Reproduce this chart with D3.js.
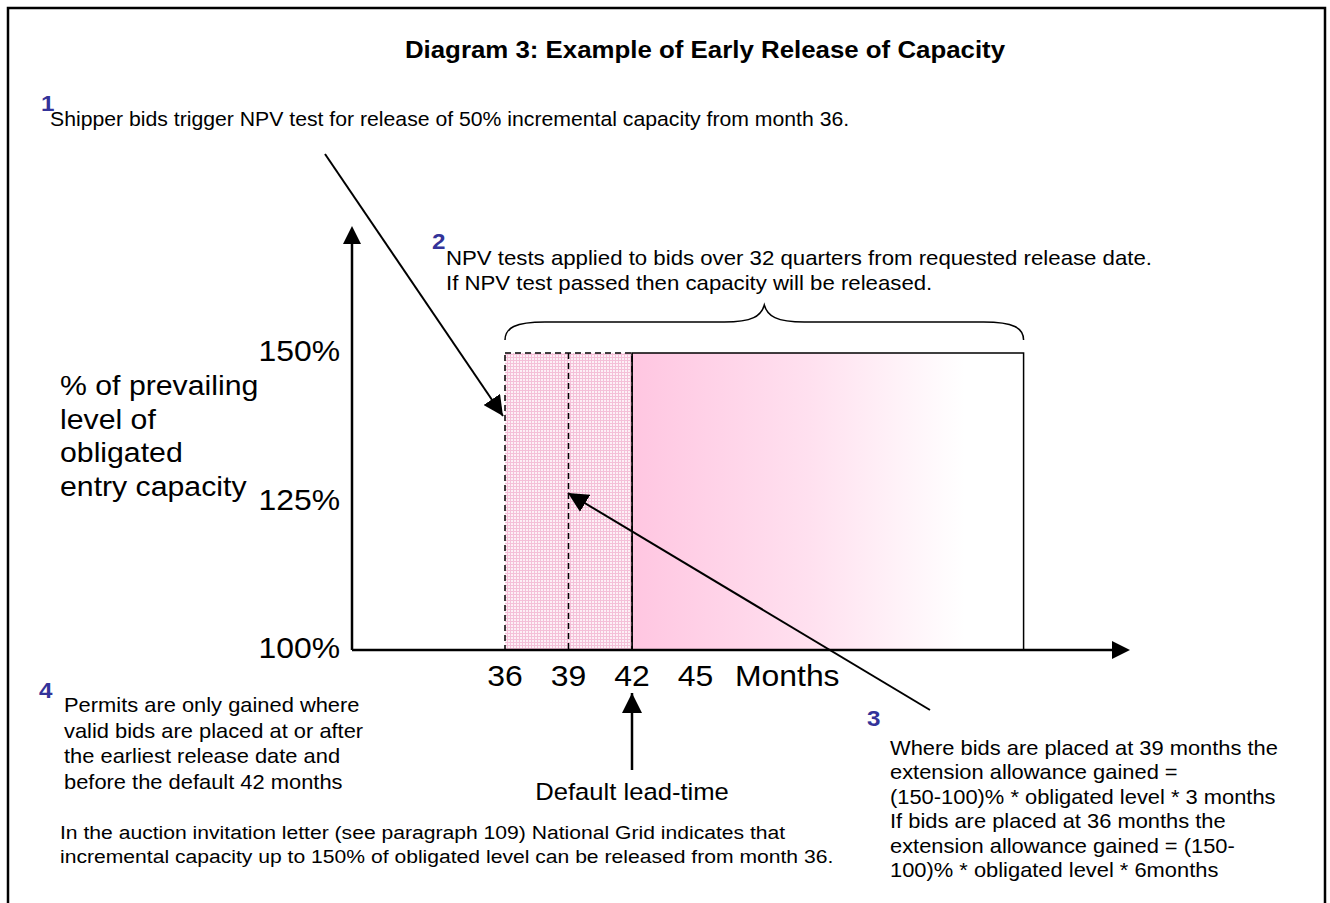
<!DOCTYPE html>
<html><head><meta charset="utf-8">
<script src="https://cdn.jsdelivr.net/npm/d3@7"></script>
<style>body{margin:0;background:#fff}svg{display:block}text{font-family:"Liberation Sans",Arial,sans-serif}</style>
</head><body>
<svg id="c" width="1330" height="903"></svg>
<script>
// ---- data ----
const yTicks = [100, 125, 150];
const xTicks = [36, 39, 42, 45];
const xAxisLabel = "Months";
const earliestRelease = 36;
const midBid = 39;
const defaultLead = 42;
const endMonth = 60.5;
const baseLevel = 100;
const topLevel = 150;
const title = "Diagram 3: Example of Early Release of Capacity";
const note1 = ["Shipper bids trigger NPV test for release of 50% incremental capacity from month 36."];
const note2 = ["NPV tests applied to bids over 32 quarters from requested release date.", "If NPV test passed then capacity will be released."];
const note3 = ["Where bids are placed at 39 months the", "extension allowance gained =", "(150-100)% * obligated level * 3 months", "If bids are placed at 36 months the", "extension allowance gained = (150-", "100)% * obligated level * 6months"];
const note4 = ["Permits are only gained where", "valid bids are placed at or after", "the earliest release date and", "before the default 42 months"];
const yLabel = ["% of prevailing", "level of", "obligated", "entry capacity"];
const bottomNote = ["In the auction invitation letter (see paragraph 109) National Grid indicates that", "incremental capacity up to 150% of obligated level can be released from month 36."];
const leadLabel = "Default lead-time";

const svg = d3.select("#c");
const blue = "#333399";
const SX = 1.1;

// scales
const x = d3.scaleLinear().domain([36, 42]).range([505, 632]);
const y = d3.scaleLinear().domain([100, 150]).range([650, 353]);
const x0 = 352;

const defs = svg.append("defs");
const grad = defs.append("linearGradient").attr("id", "g").attr("x1", "0").attr("x2", "1");
grad.append("stop").attr("offset", "0").attr("stop-color", "#ffc6e1");
grad.append("stop").attr("offset", "0.45").attr("stop-color", "#ffe0ef");
grad.append("stop").attr("offset", "0.85").attr("stop-color", "#ffffff");
const pat = defs.append("pattern").attr("id", "p").attr("width", 3).attr("height", 3).attr("patternUnits", "userSpaceOnUse");
pat.append("rect").attr("width", 3).attr("height", 3).attr("fill", "#fdf0f6");
pat.append("rect").attr("width", 3).attr("height", 1).attr("fill", "#f4c0d8");
pat.append("rect").attr("width", 1).attr("height", 3).attr("fill", "#f4c0d8");
const mk2 = defs.append("marker").attr("id", "ah2").attr("viewBox", "0 0 10 10").attr("refX", 10).attr("refY", 5)
  .attr("markerWidth", 20).attr("markerHeight", 20).attr("markerUnits", "userSpaceOnUse").attr("orient", "auto");
mk2.append("path").attr("d", "M0,0 L10,5 L0,10 Z").attr("fill", "#000");

// text helper with horizontal stretch
function txt(str, xx, yy, fs, opts = {}) {
  const t = svg.append("text").attr("transform", `translate(${xx},${yy}) scale(${SX},1)`)
    .attr("font-size", fs).text(str);
  if (opts.anchor) t.attr("text-anchor", opts.anchor);
  if (opts.bold) t.attr("font-weight", "bold");
  if (opts.fill) t.attr("fill", opts.fill);
  if (opts.dy) t.attr("dy", opts.dy);
  return t;
}

// frame
svg.append("path").attr("d", "M8,903 V8 H1325 V903").attr("fill", "none").attr("stroke", "#000").attr("stroke-width", 2.5);

// title
txt(title, 705, 58, 23.5, {anchor: "middle", bold: true});

// gradient box
svg.append("rect").attr("x", x(defaultLead)).attr("y", y(topLevel)).attr("width", x(endMonth) - x(defaultLead)).attr("height", y(baseLevel) - y(topLevel))
  .attr("fill", "url(#g)").attr("stroke", "#000").attr("stroke-width", 1.5);
// hatched early area
svg.append("rect").attr("x", x(earliestRelease)).attr("y", y(topLevel)).attr("width", x(defaultLead) - x(earliestRelease)).attr("height", y(baseLevel) - y(topLevel))
  .attr("fill", "url(#p)").attr("stroke", "#000").attr("stroke-width", 1.5).attr("stroke-dasharray", "6,4");
svg.append("line").attr("x1", x(midBid)).attr("x2", x(midBid)).attr("y1", y(topLevel)).attr("y2", y(baseLevel))
  .attr("stroke", "#000").attr("stroke-width", 1.5).attr("stroke-dasharray", "6,4");
svg.append("line").attr("x1", x(defaultLead)).attr("x2", x(defaultLead)).attr("y1", y(topLevel)).attr("y2", y(baseLevel))
  .attr("stroke", "#000").attr("stroke-width", 1.5);

// axes
svg.append("line").attr("x1", x0).attr("x2", 1112).attr("y1", y(baseLevel)).attr("y2", y(baseLevel)).attr("stroke", "#000").attr("stroke-width", 2.5);
svg.append("path").attr("d", `M1112,${y(baseLevel)-9} L1130,${y(baseLevel)} L1112,${y(baseLevel)+9} Z`).attr("fill", "#000");
svg.append("line").attr("x1", x0).attr("x2", x0).attr("y1", y(baseLevel)).attr("y2", 244).attr("stroke", "#000").attr("stroke-width", 2.5);
svg.append("path").attr("d", `M${x0-9},244 L${x0},226 L${x0+9},244 Z`).attr("fill", "#000");

// tick labels
yTicks.forEach(d => txt(d + "%", 340, y(d) - 2, 29, {anchor: "end", dy: "0.35em"}));
xTicks.forEach(d => txt(String(d), x(d), 686, 29, {anchor: "middle"}));
txt(xAxisLabel, 735, 686, 29);

// y label
yLabel.forEach((d, i) => txt(d, 60, 395 + i * 33.5, 27.5));

// brace
const bx1 = x(earliestRelease), bx2 = x(endMonth), bm = (bx1 + bx2) / 2, by = 340;
svg.append("path").attr("d", `M${bx1},${by} C${bx1},${by-12} ${bx1+10},${by-18} ${bx1+40},${by-18} L${bm-40},${by-18} C${bm-12},${by-18} ${bm-3},${by-24} ${bm},${by-35} C${bm+3},${by-24} ${bm+12},${by-18} ${bm+40},${by-18} L${bx2-40},${by-18} C${bx2-10},${by-18} ${bx2},${by-12} ${bx2},${by}`)
  .attr("fill", "none").attr("stroke", "#000").attr("stroke-width", 1.5);

// numbered notes
function num(n, xx, yy) { txt(n, xx, yy, 22, {bold: true, fill: blue}); }
function lines(arr, xx, yy, lh, fs) { arr.forEach((d, i) => txt(d, xx, yy + i * lh, fs)); }
num("1", 41, 111); lines(note1, 50, 126, 24, 19.3);
num("2", 432, 249); lines(note2, 446, 265, 25, 20.2);
num("3", 867, 726); lines(note3, 890, 755, 24.4, 19.9);
num("4", 39, 698); lines(note4, 64, 712, 25.5, 19.9);
lines(bottomNote, 60, 839, 24, 19.2);

// arrows
svg.append("line").attr("x1", 325).attr("y1", 154).attr("x2", 503).attr("y2", 416).attr("stroke", "#000").attr("stroke-width", 2).attr("marker-end", "url(#ah2)");
svg.append("line").attr("x1", 930).attr("y1", 710).attr("x2", 568).attr("y2", 493).attr("stroke", "#000").attr("stroke-width", 2).attr("marker-end", "url(#ah2)");
svg.append("line").attr("x1", x(defaultLead)).attr("y1", 770).attr("x2", x(defaultLead)).attr("y2", 693).attr("stroke", "#000").attr("stroke-width", 2.5).attr("marker-end", "url(#ah2)");
txt(leadLabel, x(defaultLead), 800, 23.3, {anchor: "middle"});
</script>
</body></html>
